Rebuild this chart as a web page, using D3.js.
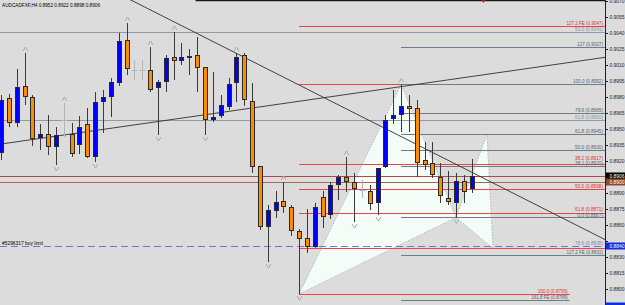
<!DOCTYPE html>
<html><head><meta charset="utf-8">
<script src="https://cdn.jsdelivr.net/npm/d3@7"></script>
<style>html,body{margin:0;padding:0;background:#dcdcdc;overflow:hidden}svg{display:block}</style>
</head><body>
<script>
// ---------- DATA ----------
const symbolName = "AUDCADFXF,H4";
const headerOHLC = ["0.8952", "0.8922", "0.8898", "0.8906"];
const opens  = [0.89276,0.89793,0.89558,0.89906,0.89802,0.89417,0.89454,0.89332,0.89586,0.89454,0.89351,0.89548,0.89238,0.89755,0.89802,0.89934,0.90338,0.90056,0.90056,0.90056,0.89887,0.89943,0.90178,0.90141,0.90169,0.90197,0.90084,0.89586,0.89624,0.89708,0.89934,0.90197,0.89765,0.89154,0.88580,0.88731,0.88825,0.88768,0.88543,0.88477,0.88392,0.88862,0.88693,0.88975,0.89050,0.89003,0.88928,0.88919,0.88806,0.89144,0.89595,0.89633,0.89718,0.89699,0.89210,0.89182,0.89050,0.88853,0.88806,0.89013,0.88937];
const highs  = [0.89821,0.89830,0.90065,0.90216,0.89821,0.89548,0.89633,0.89520,0.89746,0.89558,0.89624,0.89699,0.89849,0.89868,0.89981,0.90404,0.90498,0.90150,0.90150,0.90272,0.89962,0.90197,0.90413,0.90310,0.90253,0.90366,0.90084,0.90037,0.89821,0.89981,0.90216,0.90216,0.89934,0.89154,0.88787,0.88919,0.89003,0.88787,0.88561,0.88749,0.88806,0.88919,0.89003,0.89069,0.89238,0.89088,0.89022,0.88975,0.89135,0.89633,0.89868,0.89920,0.89821,0.89774,0.89379,0.89379,0.89182,0.89107,0.89088,0.89069,0.89220];
const lows   = [0.89210,0.89520,0.89520,0.89727,0.89342,0.89304,0.89257,0.89163,0.89426,0.89238,0.89266,0.89229,0.89191,0.89464,0.89614,0.89906,0.90009,0.89962,0.89962,0.89849,0.89445,0.89849,0.89962,0.90103,0.90009,0.89849,0.89445,0.89567,0.89605,0.89680,0.89755,0.89718,0.89088,0.88552,0.88251,0.88665,0.88712,0.88496,0.87950,0.88336,0.88383,0.88571,0.88655,0.88834,0.88909,0.88627,0.88853,0.88740,0.88693,0.89135,0.89548,0.89473,0.89473,0.89050,0.89116,0.89041,0.88806,0.88787,0.88670,0.88806,0.88900];
const closes = [0.89774,0.89558,0.89896,0.89802,0.89407,0.89454,0.89332,0.89445,0.89586,0.89266,0.89520,0.89238,0.89755,0.89802,0.89943,0.90329,0.90065,0.90056,0.90056,0.89868,0.89943,0.90169,0.90141,0.90178,0.90188,0.90075,0.89586,0.89614,0.89727,0.89924,0.90178,0.89774,0.89144,0.88580,0.88740,0.88815,0.88768,0.88543,0.88467,0.88392,0.88768,0.88674,0.88975,0.89050,0.89003,0.88937,0.88928,0.88796,0.89135,0.89586,0.89633,0.89718,0.89689,0.89182,0.89163,0.89069,0.88872,0.88815,0.89013,0.88909,0.89060];

const upFractals   = [3, 8, 16, 19, 22, 30, 36, 44, 51];
const downFractals = [7, 12, 20, 26, 34, 38, 45, 48, 58];

const tickLabels = ["0.9070","0.9055","0.9040","0.9025","0.9010","0.8995","0.8980","0.8965","0.8950","0.8935","0.8920","0.8905","0.8890","0.8875","0.8860","0.8845","0.8830","0.8815","0.8800","0.8785"];

// Fibonacci set drawn from the X low (bar 38)
const fibRedStart  = 38;
const fibRedPrices = [0.9047, 0.8992, 0.8917, 0.8894, 0.8871, 0.8838, 0.8795];
const fibRedLabels = ["127.2 FE (0.9047)", "", "38.2 (0.8917)", "50.0 (0.8898)", "61.8 (0.8871)", "", "100.0 (0.8795)"];
// Fibonacci set drawn from the A high (bar 51)
const fibGrayStart  = 51;
const fibGrayPrices = [0.9027, 0.8992, 0.8965, 0.8945, 0.8930, 0.8915, 0.8867, 0.8832, 0.8789];
const fibGrayLabels = ["127 (0.9027)", "100.0 (0.8992)", "79.6 (0.8965)", "61.8 (0.8945)", "50.0 (0.8930)", "38.2 (0.8920)", "0.0 (0.8867)", "127.2 FE (0.8832)", "161.8 FE (0.8789)"];
// levels whose lines stop before the price scale (bar index of end)
const shortLevelPrices = [0.8795, 0.8789];
const shortLevelEnd = 72.5;
// full-width retracement levels
const fibWidePrices = [0.9041, 0.8959];
const fibWideLabels = ["50.0 (0.9041)", "61.8 (0.8960)"];

// harmonic pattern points [bar, price]: X, A, B, C, D
const patternBars   = [38, 51, 58, 61.95, 62.7];
const patternPrices = [0.8795, 0.8992, 0.8867, 0.8945, 0.8838];

// trend lines: two anchors each [bar, price]
const trendUpBars = [0, 60], trendUpPrices = [0.89360, 0.89995];
const trendDnBars = [25, 60], trendDnPrices = [0.90399, 0.89095];

// top horizontal line (starts at bar 24.8), with marker at bar 61.5
const topLinePrice = 0.90712, topLineStart = 24.8, topMarkBar = 61.5;

const bidPrice = 0.8906, bidLabel = "0.8906";
const brownPrice = 0.8900, brownLabel = "0.8900";
const orderPrice = 0.8840, orderLabel = "0.8840", orderText = "#5296317 buy limit";
const orderFibLabel = "78.6 (0.8838)";
const lowBoxPrice = 0.87835;

// ---------- CHART ----------
const W = 625, H = 305, plotR = 605;
const FS = 5.5, CH = 2.15; // font size, char advance
const svg = d3.select("body").append("svg").attr("width", W).attr("height", H)
  .style("font-family", "'Liberation Sans', Arial, sans-serif");
svg.append("rect").attr("width", W).attr("height", H).attr("fill", "#dcdcdc");
svg.append("defs").append("clipPath").attr("id", "clip")
  .append("rect").attr("x", 0).attr("y", 0).attr("width", plotR).attr("height", H);

const x = d3.scaleLinear().domain([0, 60]).range([1, 471.7]);
const y = d3.scaleLinear().domain([0.87847, 0.90714]).range([H, 0]);
const px = v => Math.round(x(v)) + 0.5;
const py = v => Math.round(y(v)) + 0.5;
const fit = (sel, w) => sel.attr("textLength", w).attr("lengthAdjust", "spacingAndGlyphs");

const plot = svg.append("g").attr("clip-path", "url(#clip)");

// harmonic pattern triangles
const P = patternBars.map((b, i) => [x(b), y(patternPrices[i])]);
const tri = [[P[0], P[1], P[2]], [P[2], P[3], P[4]]];
plot.selectAll("path.tri").data(tri).join("path")
  .attr("d", d => "M" + d.map(p => p.join(",")).join("L") + "Z")
  .attr("fill", "#f3fcf7").attr("stroke", "#a9a9a9").attr("stroke-width", 0.8)
  .attr("stroke-dasharray", "1.5,1.5");

// horizontal levels
function hline(price, x0, x1, color, dash) {
  plot.append("line").attr("x1", x0).attr("x2", x1).attr("y1", py(price)).attr("y2", py(price))
    .attr("stroke", color).attr("stroke-width", 1).attr("stroke-dasharray", dash || null);
}
function hlabel(price, xEnd, text, color, dy) {
  const t = plot.append("text").attr("x", xEnd).attr("y", py(price) - 1.5 + (dy || 0)).attr("text-anchor", "end")
    .attr("font-size", FS).attr("fill", color).text(text);
  fit(t, text.length * CH);
}
fibWidePrices.forEach(p => hline(p, 0, plotR, "#8f9ba8"));
fibRedPrices.forEach(p => {
  const xe = shortLevelPrices.includes(p) ? x(shortLevelEnd) : plotR;
  hline(p, x(fibRedStart), xe, "#ee4444");
});
fibGrayPrices.forEach(p => {
  const xe = shortLevelPrices.includes(p) ? x(shortLevelEnd) : plotR;
  hline(p, x(fibGrayStart), xe, "#6f7d85");
});
hline(bidPrice, 0, plotR, "#b04848");
hline(brownPrice, 0, plotR, "#a8694a");
hline(orderPrice, 0, plotR, "#7474d8", "7,4");
plot.append("line").attr("x1", x(topLineStart)).attr("x2", plotR).attr("y1", 0.5).attr("y2", 0.5)
  .attr("stroke", "#1a1a1a").attr("stroke-width", 1.5);
plot.append("path").attr("d", `M${x(topMarkBar) - 2},0L${x(topMarkBar) + 2},0L${x(topMarkBar)},3Z`).attr("fill", "#d01010");

fibWidePrices.forEach((p, i) => hlabel(p, 603, fibWideLabels[i], "#8a96a3"));
fibRedPrices.forEach((p, i) => {
  const xe = shortLevelPrices.includes(p) ? x(shortLevelEnd) - 2 : 603;
  const dy = p === 0.8917 ? -3.5 : (p === 0.8871 ? -1.5 : 0);
  if (fibRedLabels[i]) hlabel(p, xe, fibRedLabels[i], "#e03030", dy);
});
fibGrayPrices.forEach((p, i) => {
  const xe = shortLevelPrices.includes(p) ? x(shortLevelEnd) - 2 : 603;
  hlabel(p, xe, fibGrayLabels[i], "#56646c", p === 0.8867 ? 0.5 : 0);
});
hlabel(orderPrice, 603, orderFibLabel, "#8888b0");
fit(plot.append("text").attr("x", 2).attr("y", py(orderPrice) - 1.5).attr("font-size", FS)
  .attr("fill", "#000").text(orderText), 41);

// trend lines (extended across the plot)
function trend(bars, prices) {
  const slope = (y(prices[1]) - y(prices[0])) / (x(bars[1]) - x(bars[0]));
  const y0 = y(prices[0]) - slope * x(bars[0]);
  plot.append("line").attr("x1", 0).attr("y1", y0).attr("x2", plotR).attr("y2", y0 + slope * plotR)
    .attr("stroke", "#303030").attr("stroke-width", 0.9);
}
trend(trendUpBars, trendUpPrices);
trend(trendDnBars, trendDnPrices);

// candles
const candles = opens.map((o, i) => ({ i, o, h: highs[i], l: lows[i], c: closes[i] }));
const g = plot.append("g");
candles.forEach(d => {
  const cx = px(d.i);
  if (d.o === d.c) {
    g.append("line").attr("x1", cx).attr("x2", cx).attr("y1", y(d.h)).attr("y2", y(d.l)).attr("stroke", "#b4b4b4");
    g.append("line").attr("x1", cx - 3).attr("x2", cx + 3).attr("y1", py(d.o)).attr("y2", py(d.o)).attr("stroke", "#b4b4b4");
    return;
  }
  g.append("line").attr("x1", cx).attr("x2", cx).attr("y1", y(d.h)).attr("y2", y(d.l)).attr("stroke", "#3a3a3a");
  const top = Math.round(y(Math.max(d.o, d.c))), bot = Math.round(y(Math.min(d.o, d.c)));
  g.append("rect").attr("x", cx - 2).attr("y", top + 0.5).attr("width", 4).attr("height", Math.max(1, bot - top - 1))
    .attr("fill", d.c > d.o ? "#0000ff" : "#ff8c00").attr("stroke", "#2a2a2a").attr("stroke-width", 1);
});

// fractal arrows
const arrow = plot.append("g").attr("fill", "none").attr("stroke", "#a8a8a8").attr("stroke-width", 1);
upFractals.forEach(i => {
  const cx = px(i), yy = y(highs[i]) - 4;
  arrow.append("path").attr("d", `M${cx - 2.5},${yy + 2}L${cx},${yy - 2}L${cx + 2.5},${yy + 2}`);
});
downFractals.forEach(i => {
  const cx = px(i), yy = y(lows[i]) + 4;
  arrow.append("path").attr("d", `M${cx - 2.5},${yy - 2}L${cx},${yy + 2}L${cx + 2.5},${yy - 2}`);
});

// header
const headerText = symbolName + "  " + headerOHLC.join(" ");
fit(svg.append("text").attr("x", 2).attr("y", 7).attr("font-size", FS).attr("fill", "#000").text(headerText), 98);

// price axis
svg.append("line").attr("x1", plotR + 0.5).attr("x2", plotR + 0.5).attr("y1", 0).attr("y2", H).attr("stroke", "#202020");
const ax = svg.append("g");
const boxes = [[bidPrice, bidLabel, "#000"], [brownPrice, brownLabel, "#8b4a2b"], [orderPrice, orderLabel, "#1030e0"]];
tickLabels.forEach(t => {
  const yy = py(+t);
  ax.append("line").attr("x1", plotR).attr("x2", plotR + 3).attr("y1", yy).attr("y2", yy).attr("stroke", "#202020");
  if (boxes.some(b => Math.abs(y(b[0]) - yy) < 6)) return;
  fit(ax.append("text").attr("x", plotR + 4.5).attr("y", yy).attr("dy", "0.35em").attr("font-size", FS)
    .attr("fill", "#202020").text(t), 15);
});
boxes.forEach(([price, label, bg]) => {
  const yy = Math.round(y(price));
  ax.append("rect").attr("x", plotR + 1).attr("y", yy - 3.5).attr("width", W - plotR - 1).attr("height", 7).attr("fill", bg);
  fit(ax.append("text").attr("x", plotR + 4.5).attr("y", yy).attr("dy", "0.35em").attr("font-size", FS)
    .attr("fill", "#fff").text(label), 15);
});
ax.append("rect").attr("x", plotR + 1).attr("y", Math.round(y(lowBoxPrice)) - 3.5).attr("width", W - plotR - 1).attr("height", 7).attr("fill", "#1030e0");
</script>
</body></html>
